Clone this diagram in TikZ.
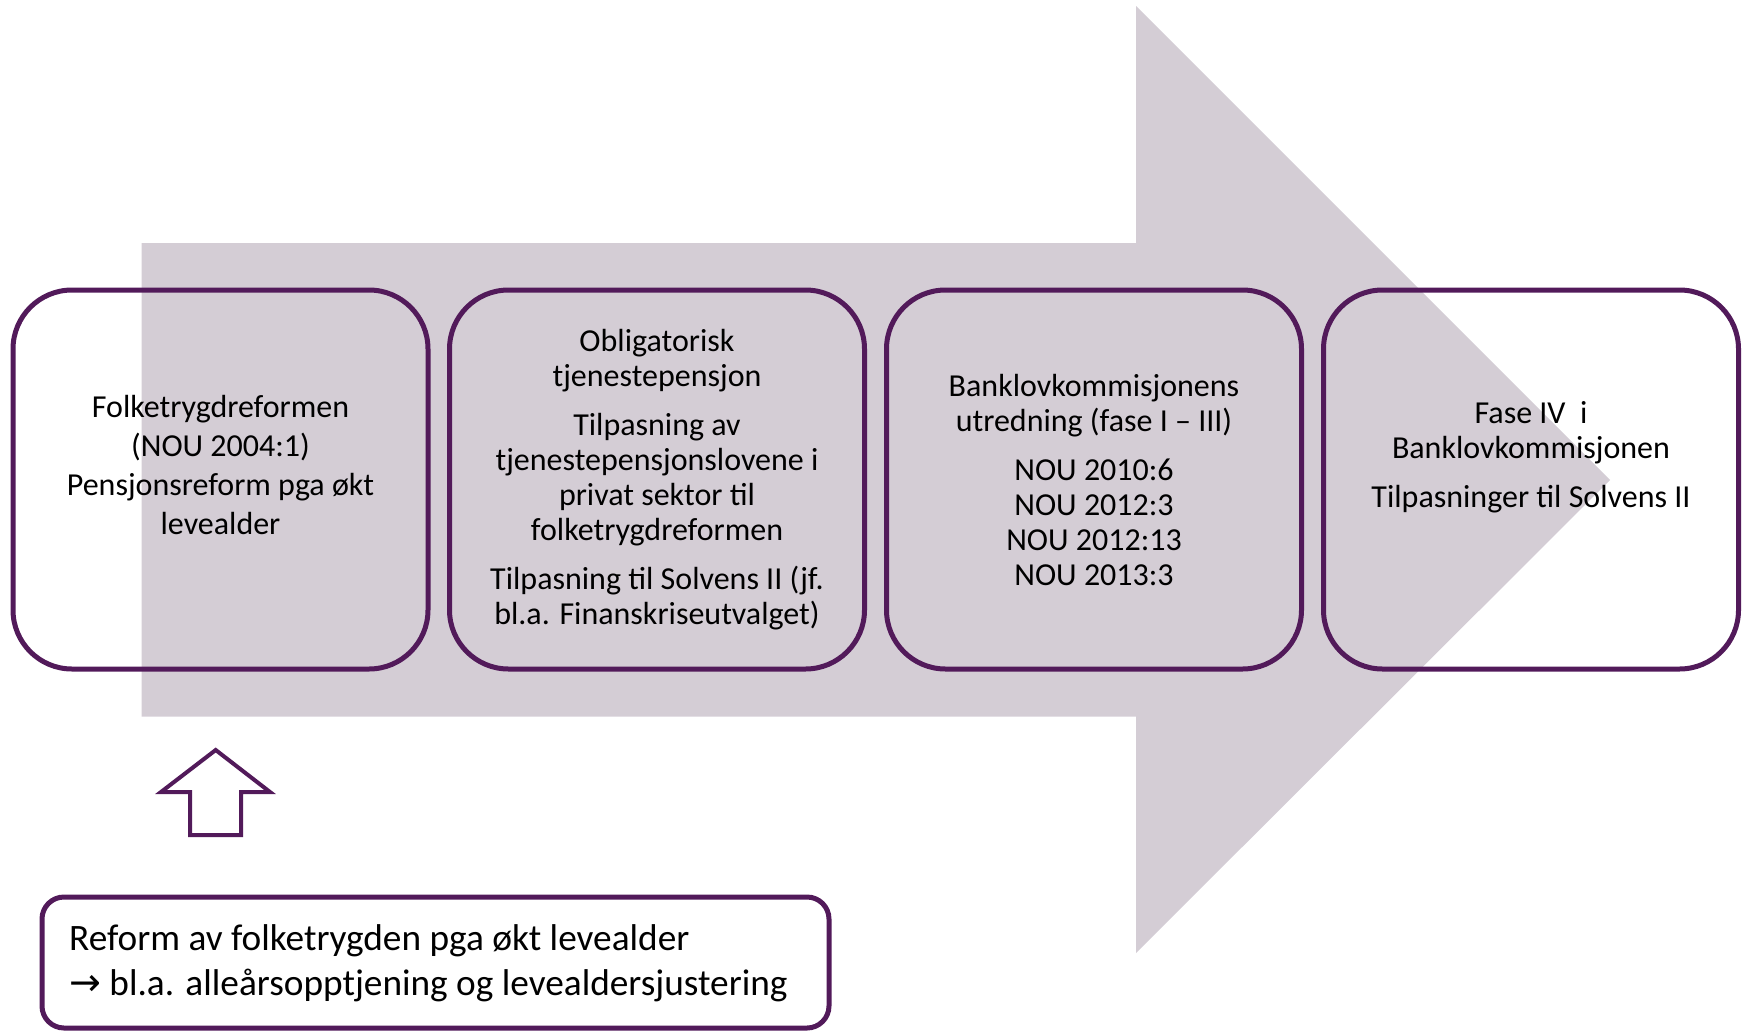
\documentclass[tikz,border=0pt]{standalone}
\usepackage{fontspec}
\setmainfont{Carlito}
\newfontfamily\symfont{DejaVu Sans}
\definecolor{arrowfill}{HTML}{D4CDD5}
\definecolor{boxline}{HTML}{521A5A}
\tikzset{
  stagebox/.style={draw=boxline, line width=5pt, rounded corners=59pt,
    minimum width=415pt, minimum height=379pt, inner sep=0pt},
  stagetext/.style={align=center, inner sep=0pt, text=black},
  notebox/.style={draw=boxline, line width=5pt, rounded corners=22pt,
    minimum height=131pt, minimum width=787pt, inner sep=0pt},
  notetext/.style={align=left, inner sep=0pt, text=black, anchor=west},
  bigarrow/.style={fill=arrowfill, draw=none},
  smallarrow/.style={draw=boxline, line width=4pt, fill=white, line join=miter}
}
\begin{document}
\begin{tikzpicture}[x=1pt,y=-1pt]
\useasboundingbox (0,0) rectangle (1743,1031);
% big background arrow
\fill[bigarrow] (141.7,243) -- (1136,243) -- (1136,6) -- (1610,480)
  -- (1136,953) -- (1136,716.7) -- (141.7,716.7) -- cycle;
% stage boxes
\node[stagebox] (b1) at (220.5,479.5) {};
\node[stagebox] (b2) at (657,479.5) {};
\node[stagebox] (b3) at (1094,479.5) {};
\node[stagebox] (b4) at (1531,479.5) {};
% stage texts
\node[stagetext, font=\fontsize{32}{39}\selectfont] (t1) at (220.5,465)
  {Folketrygdreformen\\(NOU 2004:1)\\Pensjonsreform pga økt\\levealder};
\node[stagetext, font=\fontsize{32}{35}\selectfont] (t2) at (657,480)
  {Obligatorisk\\tjenestepensjon\\[14pt]Tilpasning av\\tjenestepensjonslovene i\\privat sektor til\\folketrygdreformen\\[14pt]Tilpasning til Solvens II (jf.\\bl.a. Finanskriseutvalget)};
\node[stagetext, font=\fontsize{32}{35}\selectfont] (t3) at (1094,480)
  {Banklovkommisjonens\\utredning (fase I – III)\\[14pt]NOU 2010:6\\NOU 2012:3\\NOU 2012:13\\NOU 2013:3};
\node[stagetext, font=\fontsize{32}{35}\selectfont] (t4) at (1531,457)
  {Fase IV\ \ i\\Banklovkommisjonen\\[14pt]Tilpasninger til Solvens II};
% small up arrow
\draw[smallarrow] (215.7,750) -- (270,792) -- (241,792) -- (241,835)
  -- (190,835) -- (190,792) -- (161,792) -- cycle;
% bottom note box
\node[notebox] (nb) at (435.5,962.5) {};
\node[notetext, font=\fontsize{37.3}{45}\selectfont] (nt) at (69,963.5)
  {Reform av folketrygden pga økt levealder\\{\symfont\fontsize{38}{45}\selectfont →} bl.a. alleårsopptjening og levealdersjustering};
\end{tikzpicture}
\end{document}
